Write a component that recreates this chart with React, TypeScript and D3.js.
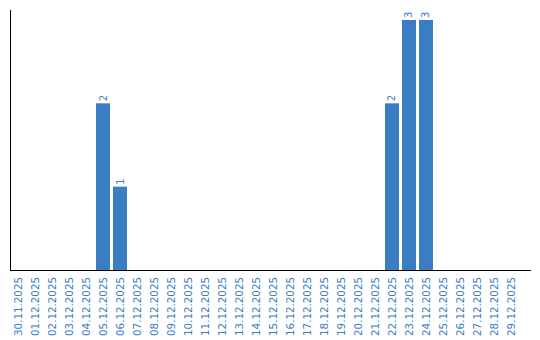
import React from "react";
import * as d3 from "d3";

const dates: string[] = [
  "30.11.2025", "01.12.2025", "02.12.2025", "03.12.2025", "04.12.2025",
  "05.12.2025", "06.12.2025", "07.12.2025", "08.12.2025", "09.12.2025",
  "10.12.2025", "11.12.2025", "12.12.2025", "13.12.2025", "14.12.2025",
  "15.12.2025", "16.12.2025", "17.12.2025", "18.12.2025", "19.12.2025",
  "20.12.2025", "21.12.2025", "22.12.2025", "23.12.2025", "24.12.2025",
  "25.12.2025", "26.12.2025", "27.12.2025", "28.12.2025", "29.12.2025",
];
const counts: number[] = [
  0, 0, 0, 0, 0, 2, 1, 0, 0, 0,
  0, 0, 0, 0, 0, 0, 0, 0, 0, 0,
  0, 0, 2, 3, 3, 0, 0, 0, 0, 0,
];

const W = 540;
const H = 340;
const BLUE = "#3b7dc4";
const FONT = "DejaVu Sans, Verdana, sans-serif";

export default function App() {
  const x = d3.scaleBand<string>().domain(dates).range([9.5, 519.5]).paddingInner(3 / 17).paddingOuter(1.5 / 17 + 0.0001);
  const y = d3.scaleLinear().domain([0, 3]).range([270, 20]);
  const bw = x.bandwidth();
  return (
    <svg width={W} height={H} style={{ position: "absolute", left: 0, top: 0 }}>
      <rect width={W} height={H} fill="#fff" />
      {dates.map((d, i) => {
        const v = counts[i];
        if (!v) return null;
        const x0 = x(d)!;
        return (
          <g key={d}>
            <rect x={x0} y={y(v)} width={bw} height={y(0) - y(v)} fill={BLUE} />
            <text
              transform={`translate(${x0 + bw / 2},${y(v) - 2}) rotate(-90)`}
              textAnchor="start"
              dy="0.35em"
              fill={BLUE}
              fontFamily={FONT}
              fontSize={10}
            >
              {v}
            </text>
          </g>
        );
      })}
      <line x1={10.5} x2={10.5} y1={10} y2={270} stroke="#000" strokeWidth={1} />
      <line x1={10} x2={531} y1={270.5} y2={270.5} stroke="#000" strokeWidth={1} />
      {dates.map((d) => (
        <text
          key={d}
          transform={`translate(${x(d)! + bw / 2},277) rotate(-90)`}
          textAnchor="end"
          dy="0.35em"
          fill={BLUE}
          fontFamily={FONT}
          fontSize={10.3}
        >
          {d}
        </text>
      ))}
    </svg>
  );
}
